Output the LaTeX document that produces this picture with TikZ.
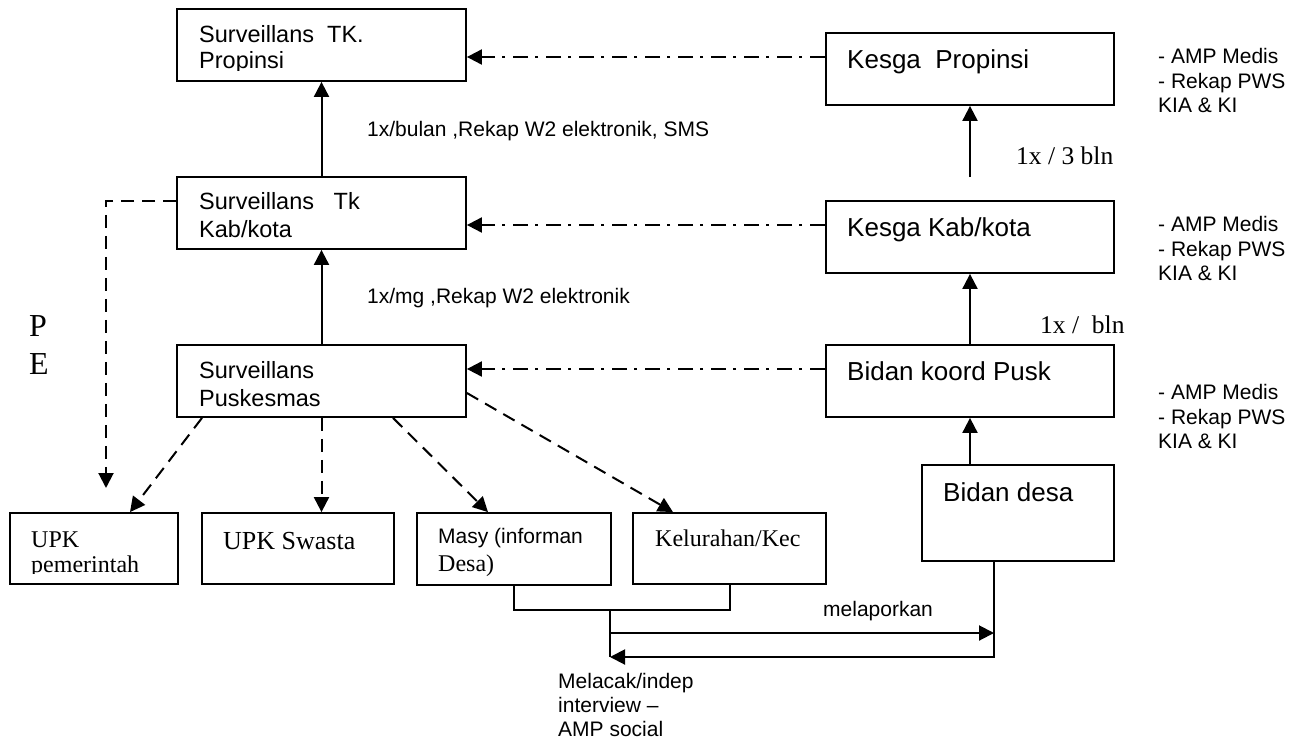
\documentclass[tikz,border=0pt]{standalone}
\usepackage{fontspec}
\setmainfont{Liberation Serif}
\setsansfont{Liberation Sans}
\newfontfamily\arialf{Liberation Sans}
\newfontfamily\tnrf{Liberation Serif}
\usetikzlibrary{arrows.meta,calc}

\tikzset{
  box/.style={draw, line width=1.8pt, inner sep=0pt},
  conn/.style={line width=2pt},
  arr/.style={conn, -{Triangle[length=15pt,width=15pt]}},
  dasharr/.style={arr, dash pattern=on 13pt off 8pt},
  ddarr/.style={arr, dash pattern=on 15pt off 8pt on 3pt off 7pt},
  sbox/.style={anchor=base west, inner sep=0pt, font=\arialf\fontsize{23.5}{26}\selectfont},
  kbox/.style={anchor=base west, inner sep=0pt, font=\arialf\fontsize{26}{29}\selectfont},
  lbl/.style={anchor=base west, inner sep=0pt, font=\arialf\fontsize{21}{24}\selectfont},
  slbl/.style={anchor=base west, inner sep=0pt, font=\tnrf\fontsize{25.5}{28}\selectfont},
  tbox/.style={anchor=base west, inner sep=0pt, font=\tnrf\fontsize{24}{27}\selectfont},
}

\begin{document}
\begin{tikzpicture}[x=1pt,y=-1pt]
\useasboundingbox (0,0) rectangle (1301,742);

% surveillance chain (left column)
\node[box, minimum width=289pt, minimum height=72pt] (sp) at (321.5,45) {};
\node[box, minimum width=289pt, minimum height=72pt] (sk) at (321.5,213) {};
\node[box, minimum width=289pt, minimum height=72pt] (su) at (321.5,381) {};

% family health chain (right column)
\node[box, minimum width=288pt, minimum height=72pt] (kp) at (970,69) {};
\node[box, minimum width=288pt, minimum height=72pt] (kk) at (970,237) {};
\node[box, minimum width=288pt, minimum height=72pt] (bk) at (970,381) {};
\node[box, minimum width=192pt, minimum height=96pt] (bd) at (1018,513) {};

% bottom row
\node[box, minimum width=168pt, minimum height=71pt] (upkp) at (94,548.5) {};
\node[box, minimum width=192pt, minimum height=71pt] (upks) at (298,548.5) {};
\node[box, minimum width=194pt, minimum height=72pt] (masy) at (514,549) {};
\node[box, minimum width=193pt, minimum height=71pt] (kel) at (729.5,548.5) {};

% box texts
\begin{scope}
  \clip (sp.north west) rectangle (sp.east |- 0,70.5);
  \node[sbox] (t1) at (199,42) {Surveillans\ \ TK.};
  \node[sbox] (t2) at (199,68) {Propinsi};
\end{scope}
\node[sbox] (t3) at (199,209) {Surveillans\ \ \ Tk};
\node[sbox] (t4) at (199,237) {Kab/kota};
\node[sbox] (t5) at (199,378) {Surveillans};
\node[sbox] (t6) at (199,406) {Puskesmas};

\node[kbox] (t7) at (847,68) {Kesga\ \ Propinsi};
\node[kbox] (t8) at (847,236) {Kesga Kab/kota};
\node[kbox] (t9) at (847,380) {Bidan koord Pusk};
\node[kbox] (t10) at (943,501) {Bidan desa};

\begin{scope}
  \clip (upkp.north west) rectangle (upkp.east |- 0,573.5);
  \node[tbox] (t11) at (31,547) {UPK};
  \node[tbox] (t12) at (31,572) {pemerintah};
\end{scope}
\node[tbox, font=\tnrf\fontsize{26}{29}\selectfont] (t13) at (223,549) {UPK Swasta};
\node[lbl] (t14) at (438,543) {Masy (informan};
\node[tbox] (t15) at (438,571) {Desa)};
\node[tbox] (t16) at (655,546) {Kelurahan/Kec};

% upward reporting
\draw[arr] (sk.north) -- (sp.south);
\draw[arr] (su.north) -- (sk.south);
\coordinate (kin) at (970,177);
\draw[arr] (kin) -- (kp.south);
\draw[arr] (bk.north) -- (kk.south);
\draw[arr] (bd.north -| bk.south) -- (bk.south);

% horizontal dash-dot links
\draw[ddarr] (kp.west |- 0,57) -- (sp.east |- 0,57);
\draw[ddarr] (kk.west |- 0,225) -- (sk.east |- 0,225);
\draw[ddarr] (bk.west |- 0,369) -- (su.east |- 0,369);

% PE feedback
\coordinate (pe) at (106,488);
\draw[dasharr] (sk.west |- 0,201) -| (pe);

% Puskesmas to bottom row
\draw[dasharr] (su.south -| 202,0) -- (upkp.north -| 130,0);
\draw[dasharr] (su.south) -- (upks.north -| su.south);
\draw[dasharr] (su.south -| 393,0) -- (masy.north -| 488,0);
\draw[dasharr] (su.east |- 0,393) -- (kel.north -| 673,0);

% reporting loop with the village midwife
\draw[conn] (masy.south) -- ++(0,24) -| (kel.south);
\coordinate (jn) at (610,609);
\coordinate (bdo) at (994,561);
\draw[conn] (jn) -- (610,657);
\draw[arr] (610,633) -- (994,633);
\draw[arr] (bdo) -- (994,657) -- (610,657);

% labels
\node[lbl] (l1) at (367,136) {1x/bulan ,Rekap W2 elektronik, SMS};
\node[lbl] (l2) at (367,303) {1x/mg ,Rekap W2 elektronik};
\node[slbl] (l3) at (1016,164) {1x / 3 bln};
\node[slbl] (l4) at (1040,333) {1x /\ \ bln};
\node[anchor=base west, inner sep=0pt, font=\tnrf\fontsize{32}{36}\selectfont] (pP) at (29,336) {P};
\node[anchor=base west, inner sep=0pt, font=\tnrf\fontsize{32}{36}\selectfont] (pE) at (29,374) {E};

\node[lbl] (a1) at (1158,63) {- AMP Medis};
\node[lbl] (a2) at (1158,88) {- Rekap PWS};
\node[lbl] (a3) at (1158,112) {KIA \& KI};
\node[lbl] (b1) at (1158,231) {- AMP Medis};
\node[lbl] (b2) at (1158,256) {- Rekap PWS};
\node[lbl] (b3) at (1158,280) {KIA \& KI};
\node[lbl] (c1) at (1158,399) {- AMP Medis};
\node[lbl] (c2) at (1158,424) {- Rekap PWS};
\node[lbl] (c3) at (1158,448) {KIA \& KI};

\node[lbl] (m1) at (823,616) {melaporkan};
\node[lbl] (m2) at (558,688) {Melacak/indep};
\node[lbl] (m3) at (558,712) {interview –};
\node[lbl] (m4) at (558,736) {AMP social};
\end{tikzpicture}
\end{document}
